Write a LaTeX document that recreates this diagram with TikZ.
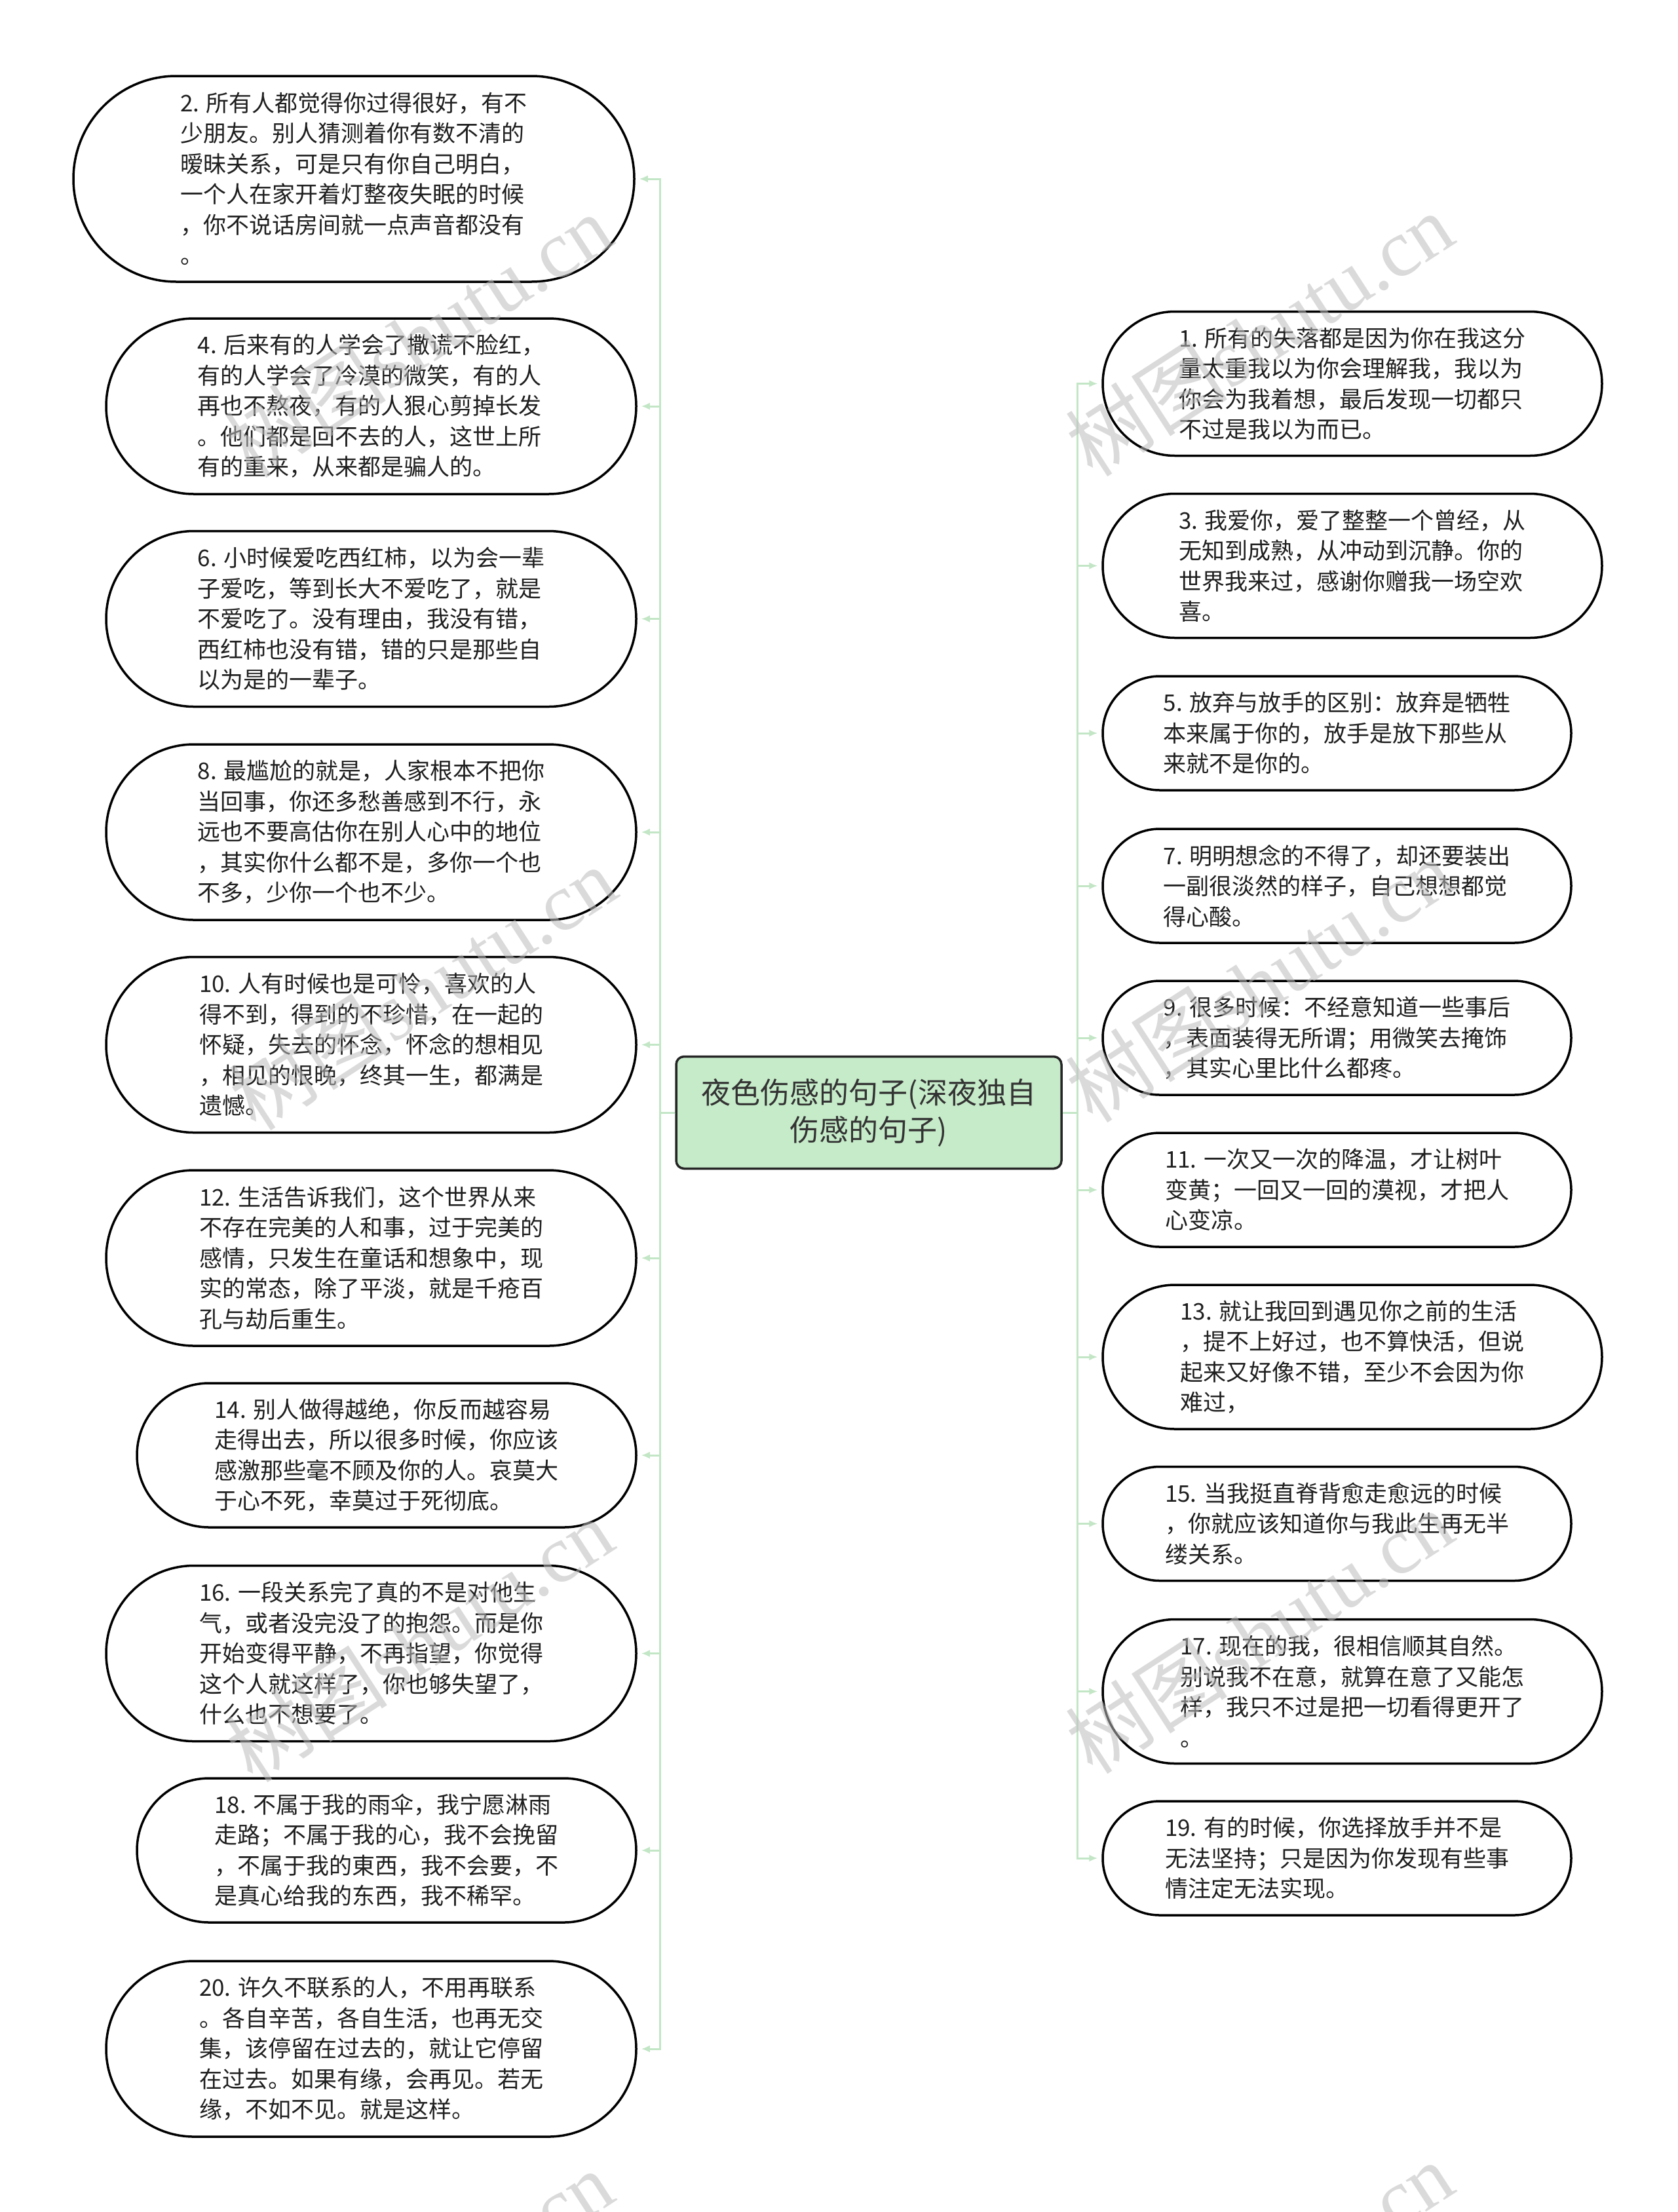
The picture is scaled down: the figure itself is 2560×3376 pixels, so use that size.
\documentclass[tikz,border=0pt]{standalone}
\usepackage{fontspec}
\setmainfont{Noto Sans CJK SC}
\newfontfamily\wmserif{Liberation Serif}
\usetikzlibrary{shapes.misc,arrows.meta}
\definecolor{spine}{HTML}{C3E6C6}
\definecolor{rootfill}{HTML}{C6EBC9}
\definecolor{wm}{HTML}{BDBDBD}
\begin{document}
\begin{tikzpicture}[x=1pt,y=-1pt,
  leaf/.style={rounded rectangle, draw=black, line width=3.5pt, fill=white, text=black!88,
    font=\fontsize{35}{46.5}\selectfont, align=left, inner sep=0pt},
  wideleaf/.style={leaf, minimum width=809pt, minimum height=268pt},
  midleaf/.style={leaf, minimum width=762pt, minimum height=220pt},
  smallleaf/.style={leaf, minimum width=715pt, minimum height=174pt},
  rootbox/.style={rectangle, rounded corners=12pt, draw=black!85, line width=3.5pt, fill=rootfill,
    font=\fontsize{45}{57}\selectfont, align=center, text=black!80,
    minimum width=588pt, minimum height=171pt, inner sep=0pt},
  conn/.style={draw=spine, line width=3pt, -{Latex[length=13pt,width=11pt]}, shorten >=6pt},
  wmark/.style={text=wm, opacity=0.55, rotate=33, inner sep=0pt,
    font=\fontsize{124}{124}\selectfont}
]
\fill[white] (0,0) rectangle (2560,3376);
\useasboundingbox (0,0) rectangle (2560,3376);

% root
\node[rootbox] (root) at (1326,1698) {夜色伤感的句子(深夜独自\\伤感的句子)};

% left column
\node[leaf, minimum width=856pt, minimum height=314pt] (L2) at (540,273) {2. 所有人都觉得你过得很好，有不\\少朋友。别人猜测着你有数不清的\\暧昧关系，可是只有你自己明白，\\一个人在家开着灯整夜失眠的时候\\，你不说话房间就一点声音都没有\\。};
\node[wideleaf] (L4) at (566.5,620) {4. 后来有的人学会了撒谎不脸红，\\有的人学会了冷漠的微笑，有的人\\再也不熬夜，有的人狠心剪掉长发\\。他们都是回不去的人，这世上所\\有的重来，从来都是骗人的。};
\node[wideleaf] (L6) at (566.5,944.5) {6. 小时候爱吃西红柿，以为会一辈\\子爱吃，等到长大不爱吃了，就是\\不爱吃了。没有理由，我没有错，\\西红柿也没有错，错的只是那些自\\以为是的一辈子。};
\node[wideleaf] (L8) at (566.5,1270) {8. 最尴尬的就是，人家根本不把你\\当回事，你还多愁善感到不行，永\\远也不要高估你在别人心中的地位\\，其实你什么都不是，多你一个也\\不多，少你一个也不少。};
\node[wideleaf] (L10) at (566.5,1594.5) {10. 人有时候也是可怜，喜欢的人\\得不到，得到的不珍惜，在一起的\\怀疑，失去的怀念，怀念的想相见\\，相见的恨晚，终其一生，都满是\\遗憾。};
\node[wideleaf] (L12) at (566.5,1920) {12. 生活告诉我们，这个世界从来\\不存在完美的人和事，过于完美的\\感情，只发生在童话和想象中，现\\实的常态，除了平淡，就是千疮百\\孔与劫后重生。};
\node[midleaf] (L14) at (590,2221) {14. 别人做得越绝，你反而越容易\\走得出去，所以很多时候，你应该\\感激那些毫不顾及你的人。哀莫大\\于心不死，幸莫过于死彻底。};
\node[wideleaf] (L16) at (566.5,2523.5) {16. 一段关系完了真的不是对他生\\气，或者没完没了的抱怨。而是你\\开始变得平静，不再指望，你觉得\\这个人就这样了，你也够失望了，\\什么也不想要了。};
\node[midleaf] (L18) at (590,2824) {18. 不属于我的雨伞，我宁愿淋雨\\走路；不属于我的心，我不会挽留\\，不属于我的東西，我不会要，不\\是真心给我的东西，我不稀罕。};
\node[wideleaf] (L20) at (566.5,3127) {20. 许久不联系的人，不用再联系\\。各自辛苦，各自生活，也再无交\\集，该停留在过去的，就让它停留\\在过去。如果有缘，会再见。若无\\缘，不如不见。就是这样。};

% right column
\node[midleaf] (R1) at (2064,585.5) {1. 所有的失落都是因为你在我这分\\量太重我以为你会理解我，我以为\\你会为我着想，最后发现一切都只\\不过是我以为而已。};
\node[midleaf] (R3) at (2064,863.5) {3. 我爱你，爱了整整一个曾经，从\\无知到成熟，从冲动到沉静。你的\\世界我来过，感谢你赠我一场空欢\\喜。};
\node[smallleaf] (R5) at (2040.5,1119) {5. 放弃与放手的区别：放弃是牺牲\\本来属于你的，放手是放下那些从\\来就不是你的。};
\node[smallleaf] (R7) at (2040.5,1352) {7. 明明想念的不得了，却还要装出\\一副很淡然的样子，自己想想都觉\\得心酸。};
\node[smallleaf] (R9) at (2040.5,1584) {9. 很多时候：不经意知道一些事后\\，表面装得无所谓；用微笑去掩饰\\，其实心里比什么都疼。};
\node[smallleaf] (R11) at (2040.5,1816) {11. 一次又一次的降温，才让树叶\\变黄；一回又一回的漠视，才把人\\心变凉。};
\node[midleaf] (R13) at (2064,2071) {13. 就让我回到遇见你之前的生活\\，提不上好过，也不算快活，但说\\起来又好像不错，至少不会因为你\\难过，};
\node[smallleaf] (R15) at (2040.5,2325.5) {15. 当我挺直脊背愈走愈远的时候\\，你就应该知道你与我此生再无半\\缕关系。};
\node[midleaf] (R17) at (2064,2581.5) {17. 现在的我，很相信顺其自然。\\别说我不在意，就算在意了又能怎\\样，我只不过是把一切看得更开了\\。};
\node[smallleaf] (R19) at (2040.5,2836) {19. 有的时候，你选择放手并不是\\无法坚持；只是因为你发现有些事\\情注定无法实现。};

% connectors
\foreach \n in {L2,L4,L6,L8,L10,L12,L14,L16,L18,L20}
  \draw[conn] (root.west) -- ++(-23,0) |- (\n.east);
\foreach \n in {R1,R3,R5,R7,R9,R11,R13,R15,R17,R19}
  \draw[conn] (root.east) -- ++(23,0) |- (\n.west);

% watermarks
\begin{scope}
\clip (0,0) rectangle (2560,3376);
\node[wmark] (w1) at (638,512) {树图{\wmserif shutu.cn}};
\node[wmark] (w2) at (1922,510) {树图{\wmserif shutu.cn}};
\node[wmark] (w3) at (645,1508) {树图{\wmserif shutu.cn}};
\node[wmark] (w4) at (1922,1496) {树图{\wmserif shutu.cn}};
\node[wmark] (w5) at (640,2503) {树图{\wmserif shutu.cn}};
\node[wmark] (w6) at (1922,2490) {树图{\wmserif shutu.cn}};
\node[wmark] (w7) at (640,3498) {树图{\wmserif shutu.cn}};
\node[wmark] (w8) at (1922,3485) {树图{\wmserif shutu.cn}};
\end{scope}
\end{tikzpicture}
\end{document}
